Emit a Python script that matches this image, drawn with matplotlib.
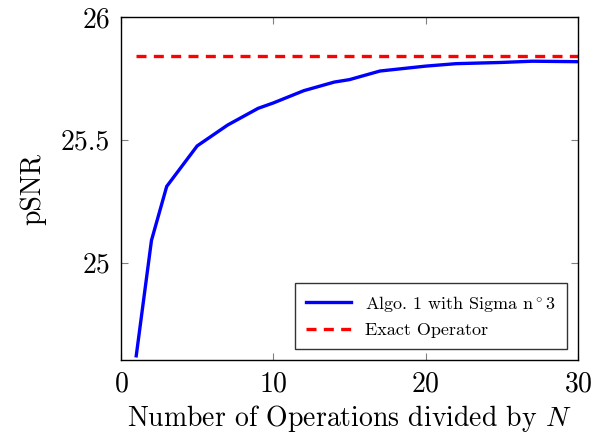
import numpy as np
import matplotlib.pyplot as plt

plt.rcParams['font.family'] = 'serif'
plt.rcParams['font.serif'] = ['cmr10']
plt.rcParams['mathtext.fontset'] = 'cm'
plt.rcParams['axes.formatter.use_mathtext'] = True

# Data
ops = [1, 2, 3, 5, 7, 9, 10, 12, 14, 15, 17, 20, 22, 25, 27, 30]
psnr_algo = [24.62, 25.09, 25.31, 25.475, 25.56, 25.628, 25.65, 25.70,
             25.735, 25.745, 25.78, 25.80, 25.81, 25.815, 25.82, 25.818]
exact_x = [1, 30]
exact_psnr = [25.84, 25.84]

fig = plt.figure(figsize=(5.94, 4.33), dpi=100)
ax = fig.add_axes([0.2037, 0.1686, 0.7693, 0.7921])

ax.plot(ops, psnr_algo, '-', color='blue', lw=2.4, label='Algo. 1 with Sigma n$^\\circ$3')
ax.plot(exact_x, exact_psnr, '--', color='red', lw=2.4, dashes=(3, 2.2), label='Exact Operator')

ax.set_xlim(0, 30)
ax.set_ylim(24.603, 26)
ax.set_xticks([0, 10, 20, 30])
ax.set_yticks([25, 25.5, 26])
ax.set_yticklabels(['25', '25.5', '26'])
ax.tick_params(direction='in', top=True, right=True, length=5, width=0.8,
               color='0.5', labelsize=20, pad=8)
for s in ax.spines.values():
    s.set_linewidth(1.0)

ax.set_xlabel('Number of Operations divided by $N$', fontsize=20, labelpad=4)
ax.set_ylabel('pSNR', fontsize=20, labelpad=10)

leg = ax.legend(loc='lower right', fontsize=13, frameon=True, fancybox=False,
                edgecolor='black', handlelength=2.5, borderaxespad=0.6,
                borderpad=0.6, labelspacing=0.5)
leg.get_frame().set_linewidth(1.0)

fig.savefig('out.png', dpi=100)
